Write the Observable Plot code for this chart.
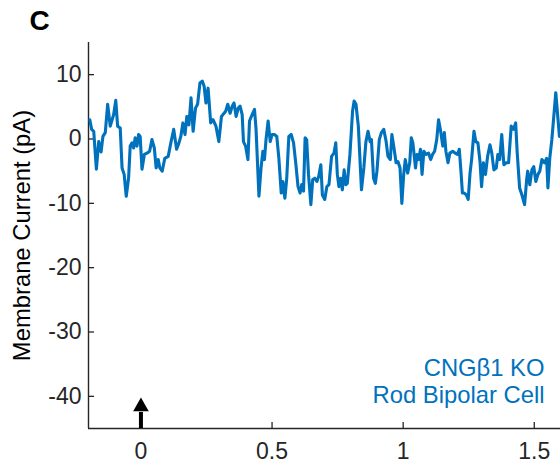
<!DOCTYPE html>
<html>
<head>
<meta charset="utf-8">
<script src="https://cdn.jsdelivr.net/npm/d3@7"></script>
<script src="https://cdn.jsdelivr.net/npm/@observablehq/plot@0.6"></script>
<style>
  html, body { margin: 0; padding: 0; background: #fff; }
</style>
</head>
<body>
<div id="chart"></div>
<script>
// Recorded membrane current of a CNGβ1 KO rod bipolar cell (time in s, current in pA)
const timeS = [
  -0.195,-0.188,-0.180,-0.170,-0.161,-0.152,-0.145,-0.136,-0.127,-0.117,
  -0.104,-0.096,-0.089,-0.079,-0.072,-0.064,-0.056,-0.047,-0.041,-0.034,
  -0.028,-0.022,-0.015,-0.009,-0.003,0.004,0.013,0.023,0.033,0.042,
  0.051,0.058,0.066,0.072,0.081,0.091,0.104,0.114,0.125,0.136,
  0.145,0.152,0.160,0.168,0.175,0.183,0.191,0.199,0.208,0.216,
  0.225,0.234,0.241,0.248,0.256,0.266,0.275,0.286,0.297,0.307,
  0.323,0.331,0.340,0.348,0.355,0.363,0.371,0.378,0.386,0.391,
  0.399,0.408,0.414,0.424,0.433,0.439,0.450,0.458,0.465,0.471,
  0.477,0.485,0.493,0.500,0.509,0.518,0.526,0.535,0.541,0.549,
  0.556,0.564,0.573,0.582,0.591,0.599,0.607,0.613,0.620,0.626,
  0.632,0.639,0.648,0.655,0.663,0.671,0.678,0.686,0.692,0.701,
  0.709,0.717,0.727,0.736,0.743,0.749,0.755,0.762,0.768,0.775,
  0.781,0.787,0.797,0.807,0.813,0.820,0.829,0.841,0.850,0.858,
  0.866,0.874,0.879,0.887,0.894,0.900,0.909,0.917,0.926,0.935,
  0.942,0.951,0.957,0.965,0.973,0.980,0.988,0.995,1.002,1.008,
  1.017,1.025,1.031,1.037,1.047,1.053,1.059,1.066,1.072,1.079,
  1.087,1.097,1.105,1.112,1.120,1.128,1.135,1.143,1.151,1.157,
  1.163,1.171,1.178,1.189,1.199,1.207,1.214,1.220,1.226,1.233,
  1.241,1.248,1.255,1.261,1.270,1.277,1.285,1.293,1.299,1.306,
  1.314,1.322,1.331,1.338,1.346,1.355,1.361,1.368,1.376,1.384,
  1.393,1.402,1.412,1.421,1.429,1.435,1.444,1.453,1.463,1.471,
  1.475,1.483,1.491,1.498,1.506,1.514,1.521,1.529,1.539,1.547,
  1.552,1.559,1.567,1.575,1.582,1.590,1.596
];
const currentPA = [
  3,1.5,1.2,-4.7,-0.4,-2,0.4,1,5.4,2,
  3.8,6,2,1.7,-4.5,-5.5,-8.9,-6,-1.1,-0.6,
  -1.4,0.2,-1.1,0.7,0.4,-4.7,-2.4,-2.2,-1.9,-0.1,
  -1.4,-4.5,-3.2,-4.5,-5,-3,-2.7,-0.6,1.5,-1.6,
  -0.6,0.4,2.5,0.7,3.5,2.2,6.4,1.2,4.8,5.4,
  8.7,9,8.2,5.6,7.9,2.5,3,2,-0.4,3.5,
  4.3,5.4,4,5.1,5.6,3.5,4.8,5.1,3.8,-0.4,
  -1.1,-3.2,2.8,3.8,4.6,1.5,-8.9,-4.5,-1.9,-3.2,
  -0.1,2.8,-0.4,0.7,0.7,0.4,-3,-8.4,-6.6,-9.2,
  -6.1,0.4,0.7,-0.6,-4,-7.4,-8.4,-7.1,-8.1,0.2,
  -0.1,-5.5,-10.2,-6.3,-6.1,-6.6,-5.8,-4,-8.7,-9.4,
  -7.4,-7.1,-2.7,-2.2,-0.6,-5.5,-7.4,-6.1,-7.9,-4.8,
  -7.1,-6.9,-2.4,4.3,5.9,5.4,2,-7.9,-4.5,-0.4,
  1.2,-0.4,-0.1,-6.1,-6.9,-5,-0.1,1,1.5,-0.4,
  -2.7,-3.2,0.7,-1.4,-3.7,-3.5,-4.5,-10,-5.5,-3.2,
  -5.3,-3.7,0.2,-0.6,-4.5,-2.4,-3.2,-1.6,-5.5,-1.9,
  -2.4,-2.2,-3.2,-2.4,-1.9,-0.1,3,1.2,-1.1,1,
  -1.9,-3.7,-2.2,-1.9,-2.2,-2.4,-1.6,-4.8,-8.4,-8.4,
  -8.7,-9.4,-5.3,-3.2,1.2,-0.4,-0.6,-3.5,-7.4,-3.7,
  -5.5,-2.7,-0.9,-2.2,-4.8,-4.5,-2.4,-3.2,0.7,-4,
  -3.7,-3.7,2,1.5,2.5,-2.2,-7.6,-8.7,-10.2,-6.3,
  -5,-7.1,-4.8,-4.3,-6.6,-5.5,-5,-3.2,-3.7,-3,
  -7.6,-3,-0.1,3.8,7.2,3.3,0.4
];

const xTicks = [0, 0.5, 1, 1.5];
const yTicks = [-40, -30, -20, -10, 0, 10];
const xDomain = [-0.2, 1.6];
const yDomain = [-45, 15];

// Stimulus marker: flash delivered at t = 0
const stimulusTime = 0;
const arrowHeadCurrent = -41.6;
const arrowShaftTop = -42.5;

const panelLabel = "C";
const yLabel = "Membrane Current (pA)";
const cellLabel = ["CNGβ1 KO", "Rod Bipolar Cell"];
const cellLabelTime = 1.539;
const cellLabelCurrent = -37.6;

const traceColor = "#0072BD";
const axisColor = "#262626";

const trace = timeS.map((t, i) => ({t, i: currentPA[i]}));

const chart = Plot.plot({
  width: 560,
  height: 469,
  marginLeft: 88,
  marginRight: 0,
  marginTop: 42,
  marginBottom: 41,
  style: {
    fontFamily: "'Liberation Sans', Arial, Helvetica, sans-serif",
    fontSize: "23px",
    color: axisColor,
    background: "#fff",
    overflow: "visible"
  },
  x: {domain: xDomain},
  y: {domain: yDomain},
  marks: [
    // tick labels
    Plot.axisY({ticks: yTicks, tickSize: 0, tickPadding: 7, tickFormat: d => String(d), label: null, fontSize: 23}),
    Plot.axisX({ticks: xTicks, tickSize: 0, tickPadding: 14, tickFormat: d => String(d), label: null, fontSize: 23}),
    // inward tick marks
    Plot.tickY(yTicks, {y: d => d, insetRight: 466, stroke: axisColor, strokeWidth: 1.3}),
    Plot.tickX(xTicks, {x: d => d, insetTop: 380, stroke: axisColor, strokeWidth: 1.3}),
    // axis lines
    Plot.ruleX([xDomain[0]], {stroke: axisColor, strokeWidth: 1.4}),
    Plot.ruleY([yDomain[0]], {stroke: axisColor, strokeWidth: 1.4}),
    // axis title
    Plot.text([yLabel], {frameAnchor: "left", textAnchor: "middle", lineAnchor: "middle", rotate: -90, dx: -66, fontSize: 23.8, fill: "#000"}),
    // panel letter
    Plot.text([panelLabel], {frameAnchor: "top-left", textAnchor: "middle", lineAnchor: "middle", dx: -49, dy: -21, fontSize: 28, fontWeight: "bold", fill: "#000"}),
    // current trace
    Plot.line(trace, {x: "t", y: "i", stroke: traceColor, strokeWidth: 3.1, strokeLinejoin: "round", strokeLinecap: "round"}),
    // stimulus arrow
    Plot.ruleX([stimulusTime], {y1: yDomain[0], y2: arrowShaftTop, stroke: "#000", strokeWidth: 4}),
    Plot.dot([stimulusTime], {x: d => d, y: arrowHeadCurrent, symbol: "triangle", r: 5.8, fill: "#000", stroke: null}),
    // cell annotation
    Plot.text([cellLabel.join("\n")], {
      x: cellLabelTime, y: cellLabelCurrent, textAnchor: "end", lineAnchor: "middle",
      lineHeight: 1.15, fontSize: 23.8, fill: traceColor
    })
  ]
});

document.getElementById("chart").append(chart);
</script>
</body>
</html>
